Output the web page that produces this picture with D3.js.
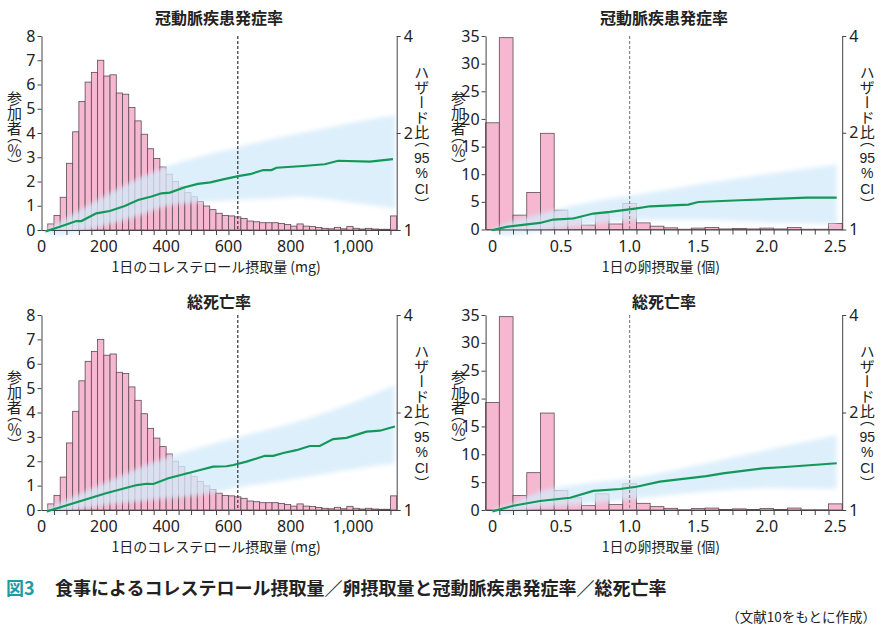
<!DOCTYPE html>
<html>
<head>
<meta charset="utf-8">
<title>Cholesterol / egg intake and CHD / mortality</title>
<script src="https://d3js.org/d3.v7.min.js"></script>
<style>
  body { margin: 0; background: #fff; }
  svg { font-family: "Noto Sans CJK JP", "Noto Sans", sans-serif; }
</style>
</head>
<body>
<svg width="881" height="633"></svg>
<script>
// ---- data ---------------------------------------------------------------
// cholesterol intake histogram: 20 mg bins starting at 20 mg (last bin = tail)
const cholBinStart = d3.range(20, 1140, 20);
const cholPct = [0.25, 0.6, 1.35, 2.75, 4.05, 5.3, 6.1, 6.5, 7.0, 6.35,
                 6.4, 5.65, 5.6, 5.05, 4.5, 3.95, 3.35, 2.95, 2.6, 2.3,
                 2.0, 1.78, 1.54, 1.37, 1.17, 0.99, 0.84, 0.69, 0.6, 0.58,
                 0.54, 0.48, 0.37, 0.34, 0.3, 0.3, 0.3, 0.27, 0.23, 0.16,
                 0.25, 0.16, 0.14, 0.1, 0.07, 0.05, 0.11, 0.05, 0.15, 0.07,
                 0.04, 0.07, 0.04, 0.03, 0.03, 0.58];

// egg intake histogram: bins of 0.1 egg/day centred on 0, 0.1, ... 2.5
const eggBinMid = d3.range(0, 26).map(i => i / 10);
const eggPct = [19.3, 34.7, 2.6, 6.7, 17.4, 3.5, 2.2, 0.8, 2.9, 1.0,
                4.7, 1.2, 0.6, 0.3, 0.05, 0.25, 0.35, 0.1, 0.2, 0.1,
                0.25, 0.1, 0.35, 0.05, 0.05, 1.1];

// hazard ratio curves [intake, HR] and 95% CI bands [intake, low, high]
const chdCholLine = [[13, 0.99], [54, 1.02], [112, 1.066], [128, 1.066], [176, 1.126],
  [219, 1.145], [267, 1.187], [310, 1.239], [353, 1.27], [385, 1.3], [412, 1.306],
  [460, 1.357], [502, 1.39], [542, 1.406], [583, 1.436], [631, 1.47], [669, 1.49],
  [712, 1.535], [738, 1.535], [754, 1.56], [840, 1.58], [909, 1.6], [952, 1.64],
  [1054, 1.63], [1128, 1.66]];
const chdCholBand = [[15, 0.97, 1.01], [60, 0.96, 1.06], [107, 0.98, 1.13], [200, 1.03, 1.27],
  [300, 1.1, 1.43], [407, 1.19, 1.58], [509, 1.22, 1.69], [615, 1.24, 1.79],
  [722, 1.25, 1.9], [829, 1.265, 1.995], [936, 1.24, 2.09], [1043, 1.2, 2.195],
  [1135, 1.165, 2.27]];

const mortCholLine = [[17, 0.99], [207, 1.126], [306, 1.194], [338, 1.205], [359, 1.203],
  [407, 1.253], [509, 1.329], [551, 1.361], [594, 1.365], [616, 1.377], [658, 1.41],
  [717, 1.47], [744, 1.47], [776, 1.5], [818, 1.53], [861, 1.576], [893, 1.576],
  [936, 1.655], [979, 1.67], [1043, 1.745], [1086, 1.757], [1134, 1.81]];
const mortCholBand = [[17, 0.97, 1.01], [207, 1.036, 1.218], [407, 1.087, 1.46],
  [509, 1.113, 1.56], [616, 1.167, 1.665], [818, 1.252, 1.87], [1021, 1.345, 2.186],
  [1134, 1.394, 2.43]];

const chdEggLine = [[-0.006, 0.995], [0.103, 1.019], [0.346, 1.048], [0.444, 1.074],
  [0.589, 1.082], [0.735, 1.121], [0.857, 1.134], [1.04, 1.162], [1.149, 1.181],
  [1.428, 1.195], [1.501, 1.218], [1.805, 1.233], [2.291, 1.257], [2.51, 1.257]];
const chdEggBand = [[0.0, 0.98, 1.0], [0.1, 0.96, 1.045], [0.35, 0.99, 1.12],
  [0.59, 1.02, 1.19], [1.08, 1.07, 1.29], [1.56, 1.07, 1.395], [2.05, 1.05, 1.5],
  [2.51, 1.04, 1.594]];

const mortEggLine = [[0.0, 0.99], [0.152, 1.031], [0.346, 1.066], [0.566, 1.091],
  [0.735, 1.145], [0.93, 1.161], [1.05, 1.18], [1.22, 1.223], [1.56, 1.273],
  [1.68, 1.298], [1.97, 1.345], [2.16, 1.36], [2.51, 1.394]];
const mortEggBand = [[0.0, 0.98, 1.0], [0.1, 0.98, 1.03], [0.346, 1.02, 1.14],
  [0.59, 1.036, 1.194], [1.08, 1.087, 1.267], [1.56, 1.14, 1.394], [2.05, 1.17, 1.55],
  [2.51, 1.16, 1.7]];

// axis ticks and labels
const cholPctTicks = [0, 1, 2, 3, 4, 5, 6, 7, 8];
const eggPctTicks = [0, 5, 10, 15, 20, 25, 30, 35];
const cholTickLabels = [0, 200, 400, 600, 800, 1000];
const cholMinorTicks = d3.range(40, 1140, 40);
const eggTickLabels = [0, 0.5, 1, 1.5, 2, 2.5];
const eggMinorTicks = d3.range(1, 26).map(i => i / 10 - 0.05);
const hrTicks = [1, 2, 4];

const titleChd = "冠動脈疾患発症率";
const titleMort = "総死亡率";
const xTitleChol = "1日のコレステロール摂取量 (mg)";
const xTitleEgg = "1日の卵摂取量 (個)";

// ---- drawing -------------------------------------------------------------
const svg = d3.select("svg");

// soft edge for the CI band
svg.append("defs").append("filter")
  .attr("id", "soft")
  .attr("x", "-5%").attr("y", "-20%").attr("width", "110%").attr("height", "140%")
  .append("feGaussianBlur").attr("stdDeviation", 2);

// vertical (tategaki) run of text, x = centre line, y = top of first glyph
function vText(g, x, y, s) {
  g.append("text")
    .attr("x", x).attr("y", y)
    .style("writing-mode", "vertical-rl")
    .style("font-feature-settings", "\"vhal\" 1")
    .attr("font-size", 15)
    .attr("fill", "#222")
    .text(s);
}
// small upright latin piece inside a vertical label
function hText(g, x, y, s) {
  g.append("text")
    .attr("x", x).attr("y", y)
    .attr("text-anchor", "middle")
    .attr("dominant-baseline", "central")
    .attr("font-family", "'Liberation Sans', sans-serif")
    .attr("font-size", 14)
    .attr("fill", "#222")
    .text(s);
}

function panel(o) {
  const g = svg.append("g");
  const x = d3.scaleLinear().domain(o.xDomain).range([o.left, o.right]);
  const y = d3.scaleLinear().domain([0, o.yMax]).range([o.bottom, o.top]);
  const hr = d3.scaleLog().base(2).domain([1, 4]).range([o.bottom, o.top]);

  // bars
  g.selectAll("rect").data(o.bars).join("rect")
    .attr("x", d => x(d.x0))
    .attr("width", d => x(d.x1) - x(d.x0))
    .attr("y", d => y(d.v))
    .attr("height", d => y(0) - y(d.v))
    .attr("fill", "#f5b8d0")
    .attr("stroke", "#5e4b55")
    .attr("stroke-width", 0.8);

  // 95% CI band
  const area = d3.area()
    .x(d => x(d[0]))
    .y0(d => hr(d[1]))
    .y1(d => hr(d[2]))
    .curve(d3.curveMonotoneX);
  g.append("path")
    .datum(o.band)
    .attr("d", area)
    .attr("fill", "#d4ebfa")
    .attr("opacity", 0.78)
    .attr("filter", "url(#soft)");

  // reference line
  g.append("line")
    .attr("x1", x(o.dashAt)).attr("x2", x(o.dashAt))
    .attr("y1", o.top).attr("y2", o.bottom)
    .attr("stroke", o.dashColor)
    .attr("stroke-width", 1.2)
    .attr("stroke-dasharray", "3,2");

  // left axis
  const ax = g.append("g")
    .attr("transform", `translate(${o.left},0)`)
    .call(d3.axisLeft(y).tickValues(o.yTicks).tickSize(4).tickSizeOuter(0).tickPadding(2));
  // right axis (log scale)
  const ar = g.append("g")
    .attr("transform", `translate(${o.right},0)`)
    .call(d3.axisRight(hr).tickValues(hrTicks).tickFormat(d3.format("d"))
      .tickSize(4).tickSizeOuter(0).tickPadding(3));
  // bottom axis: minor ticks only, labels set separately
  const ab = g.append("g")
    .attr("transform", `translate(0,${o.bottom})`)
    .call(d3.axisBottom(x).tickValues(o.minorTicks).tickFormat("").tickSize(5).tickSizeOuter(0));

  [ax, ar, ab].forEach(a => {
    a.selectAll("path, line").attr("stroke", "#444");
    a.selectAll("text").attr("font-size", 16).attr("fill", "#222")
      .attr("font-family", "'Noto Sans', sans-serif");
  });

  g.selectAll("text.xl").data(o.tickLabels).join("text")
    .attr("class", "xl")
    .attr("x", d => x(d))
    .attr("y", o.bottom + 22)
    .attr("text-anchor", "middle")
    .attr("font-size", 16)
    .attr("font-family", "'Noto Sans', sans-serif")
    .attr("fill", "#222")
    .text(o.fmt);

  // HR line
  g.append("path")
    .datum(o.line)
    .attr("d", d3.line().x(d => x(d[0])).y(d => hr(d[1])))
    .attr("fill", "none")
    .attr("stroke", "#13985a")
    .attr("stroke-width", 2.2);

  // titles
  g.append("text")
    .attr("x", (o.left + o.right) / 2).attr("y", o.titleY)
    .attr("text-anchor", "middle")
    .attr("font-size", 16).attr("font-weight", "bold").attr("fill", "#222")
    .text(o.title);
  g.append("text")
    .attr("x", (o.left + o.right) / 2 - 3).attr("y", o.bottom + 42)
    .attr("text-anchor", "middle")
    .attr("font-size", 14).attr("fill", "#222")
    .text(o.xTitle);

  // y titles
  const lx = o.left - 27, rx = o.right + 25;
  vText(g, lx, o.top + 54.5, "参加者（％）");
  vText(g, rx, o.top + 28.5, "ハザード比（");
  hText(g, rx, o.top + 121.5, "95");
  hText(g, rx, o.top + 137, "%");
  hText(g, rx, o.top + 152.5, "CI");
  vText(g, rx, o.top + 160.5, "）");
}

const cholBars = cholBinStart.map((s, i) => ({ x0: s, x1: s + 20, v: cholPct[i] }));
const eggBars = eggBinMid.map((m, i) => ({ x0: m - 0.05, x1: m + 0.05, v: eggPct[i] }));
const cholFmt = d3.format(",");
const eggFmt = d => d === 0 ? "0" : d3.format(".1f")(d);

const leftPos = { left: 41.5, right: 396.7, xDomain: [0, 1140] };
const rightPos = { left: 485.6, right: 842.2, xDomain: [-0.05, 2.55] };

panel({ ...leftPos, top: 36, bottom: 230, titleY: 24, yMax: 8, yTicks: cholPctTicks,
  bars: cholBars, band: chdCholBand, line: chdCholLine, dashAt: 630, dashColor: "#333",
  minorTicks: cholMinorTicks, tickLabels: cholTickLabels, fmt: cholFmt,
  title: titleChd, xTitle: xTitleChol });
panel({ ...rightPos, top: 36, bottom: 229.5, titleY: 24, yMax: 35, yTicks: eggPctTicks,
  bars: eggBars, band: chdEggBand, line: chdEggLine, dashAt: 1.0, dashColor: "#888",
  minorTicks: eggMinorTicks, tickLabels: eggTickLabels, fmt: eggFmt,
  title: titleChd, xTitle: xTitleEgg });
panel({ ...leftPos, top: 315, bottom: 510, titleY: 308, yMax: 8, yTicks: cholPctTicks,
  bars: cholBars, band: mortCholBand, line: mortCholLine, dashAt: 630, dashColor: "#333",
  minorTicks: cholMinorTicks, tickLabels: cholTickLabels, fmt: cholFmt,
  title: titleMort, xTitle: xTitleChol });
panel({ ...rightPos, top: 315, bottom: 510, titleY: 308, yMax: 35, yTicks: eggPctTicks,
  bars: eggBars, band: mortEggBand, line: mortEggLine, dashAt: 1.0, dashColor: "#888",
  minorTicks: eggMinorTicks, tickLabels: eggTickLabels, fmt: eggFmt,
  title: titleMort, xTitle: xTitleEgg });

// caption
svg.append("text").attr("x", 6).attr("y", 595)
  .attr("font-size", 18).attr("font-weight", "bold").attr("fill", "#1e9aa5")
  .text("図3");
svg.append("text").attr("x", 55).attr("y", 595)
  .attr("font-size", 18).attr("font-weight", "bold").attr("fill", "#222")
  .text("食事によるコレステロール摂取量／卵摂取量と冠動脈疾患発症率／総死亡率");
svg.append("text").attr("x", 876).attr("y", 622)
  .attr("text-anchor", "end")
  .attr("font-size", 13.5).attr("fill", "#222")
  .text("（文献10をもとに作成）");
</script>
</body>
</html>
